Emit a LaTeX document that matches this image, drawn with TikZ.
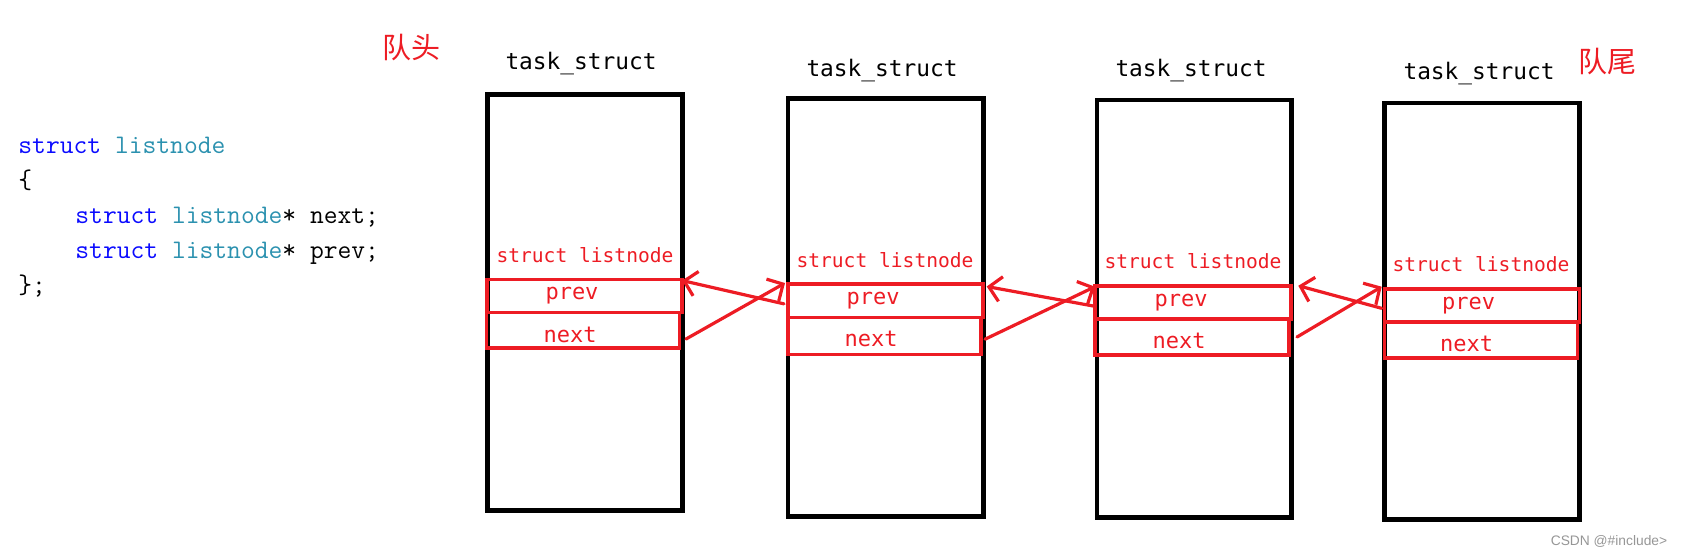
\documentclass[tikz,border=0pt]{standalone}
\usepackage{fontspec}
\setmainfont{Liberation Serif}
\newfontfamily\labfont{DejaVu Sans Mono}
\newfontfamily\cjkfont{Noto Sans CJK SC}
\newfontfamily\wmfont{Liberation Sans}
\usetikzlibrary{arrows.meta}
\definecolor{pred}{RGB}{237,28,36}
\definecolor{kwblue}{RGB}{10,10,255}
\definecolor{tyteal}{RGB}{43,145,175}
\definecolor{wmgray}{RGB}{150,150,150}
\begin{document}
\begin{tikzpicture}[x=0.5pt,y=-0.5pt,
  taskbox/.style={draw=black,line width=2.4pt,inner sep=0pt,outer sep=0pt},
  fieldbox/.style={draw=pred,line width=1.7pt,inner sep=0pt,outer sep=0pt},
  tasktitle/.style={font=\labfont\fontsize{11.4pt}{13pt}\selectfont,inner sep=0pt},
  sltext/.style={font=\labfont\fontsize{9.8pt}{11pt}\selectfont,text=pred,inner sep=0pt},
  fieldtext/.style={font=\labfont\fontsize{11pt}{13pt}\selectfont,text=pred,inner sep=0pt},
  codeline/.style={font=\ttfamily\fontsize{13.4pt}{15pt}\selectfont,anchor=base west,inner sep=0pt},
  cjklabel/.style={font=\cjkfont\fontsize{14.5pt}{16pt}\selectfont,text=pred,inner sep=0pt},
  link/.style={draw=pred,line width=1.6pt,line cap=round,-{Straight Barb[length=6pt,width=12.5pt,line join=miter]}}
]
\useasboundingbox (0,0) rectangle (1685,554);

% code
\node[codeline] (c1) at (18,153) {\textcolor{kwblue}{struct} \textcolor{tyteal}{listnode}};
\node[codeline] (c2) at (18,188) {\{};
\node[codeline] (c3) at (75,223) {\textcolor{kwblue}{struct} \textcolor{tyteal}{listnode}* next;};
\node[codeline] (c4) at (75,258) {\textcolor{kwblue}{struct} \textcolor{tyteal}{listnode}* prev;};
\node[codeline] (c5) at (18,293) {\};};

% labels
\node[cjklabel] (head) at (411,48) {队头};
\node[cjklabel] (tail) at (1607,62) {队尾};

% titles
\node[tasktitle] (t1) at (581,64) {task\_struct};
\node[tasktitle] (t2) at (882,71) {task\_struct};
\node[tasktitle] (t3) at (1191,71) {task\_struct};
\node[tasktitle] (t4) at (1479,74) {task\_struct};

% boxes
\node[taskbox,minimum width=97.5pt,minimum height=208pt] (b1) at (585,302.5) {};
\node[taskbox,minimum width=97.75pt,minimum height=209pt] (b2) at (885.75,307.5) {};
\node[taskbox,minimum width=97.25pt,minimum height=208.75pt] (b3) at (1194.25,308.75) {};
\node[taskbox,minimum width=97.5pt,minimum height=208.25pt] (b4) at (1482,311.25) {};

% struct listnode labels
\node[sltext] (s1) at (585,255) {struct listnode};
\node[sltext] (s2) at (885,260) {struct listnode};
\node[sltext] (s3) at (1193,261) {struct listnode};
\node[sltext] (s4) at (1481,264) {struct listnode};

% field rectangles
\node[fieldbox,minimum width=97.5pt,minimum height=16.5pt] (p1) at (584.5,296) {};
\node[fieldbox,minimum width=96.5pt,minimum height=17.75pt] (n1) at (583,330.25) {};
\node[fieldbox,minimum width=97.5pt,minimum height=16.85pt] (p2) at (885.5,300.85) {};
\node[fieldbox,minimum width=96.5pt,minimum height=18.5pt] (n2) at (884.5,336.2) {};
\node[fieldbox,minimum width=98pt,minimum height=16.5pt] (p3) at (1193,302.5) {};
\node[fieldbox,minimum width=97pt,minimum height=18pt] (n3) at (1192,337) {};
\node[fieldbox,minimum width=97.5pt,minimum height=16.5pt] (p4) at (1482,305.5) {};
\node[fieldbox,minimum width=96.5pt,minimum height=18pt] (n4) at (1481,340) {};

% field texts
\node[fieldtext] (pt1) at (572,296) {prev};
\node[fieldtext] (nt1) at (570,334.5) {next};
\node[fieldtext] (pt2) at (873,300.8) {prev};
\node[fieldtext] (nt2) at (871,339) {next};
\node[fieldtext] (pt3) at (1181,302.5) {prev};
\node[fieldtext] (nt3) at (1179,341) {next};
\node[fieldtext] (pt4) at (1468.5,305.5) {prev};
\node[fieldtext] (nt4) at (1466.5,344) {next};

% links
\draw[link] ([shift={(-4,3)}]p2.west) -- ([shift={(0,1)}]p1.north east);
\draw[link] ([shift={(6.5,8.75)}]n1.east) -- ([shift={(-3,-1)}]p2.north west);
\draw[link] ([shift={(-1.7,3.5)}]p3.west) -- ([shift={(3.7,2.5)}]p2.north east);
\draw[link] ([shift={(4,3)}]n2.east) -- ([shift={(0,0.7)}]p3.north west);
\draw[link] ([shift={(-2.8,2.8)}]p4.west) -- ([shift={(7.3,-0.3)}]p3.north east);
\draw[link] ([shift={(8,0)}]n3.east) -- ([shift={(-2.8,-2.3)}]p4.north west);

% watermark
\node[font=\wmfont\fontsize{6.9pt}{8pt}\selectfont,text=wmgray,inner sep=0pt] (wm) at (1609,541) {CSDN @\#include>};
\end{tikzpicture}
\end{document}
